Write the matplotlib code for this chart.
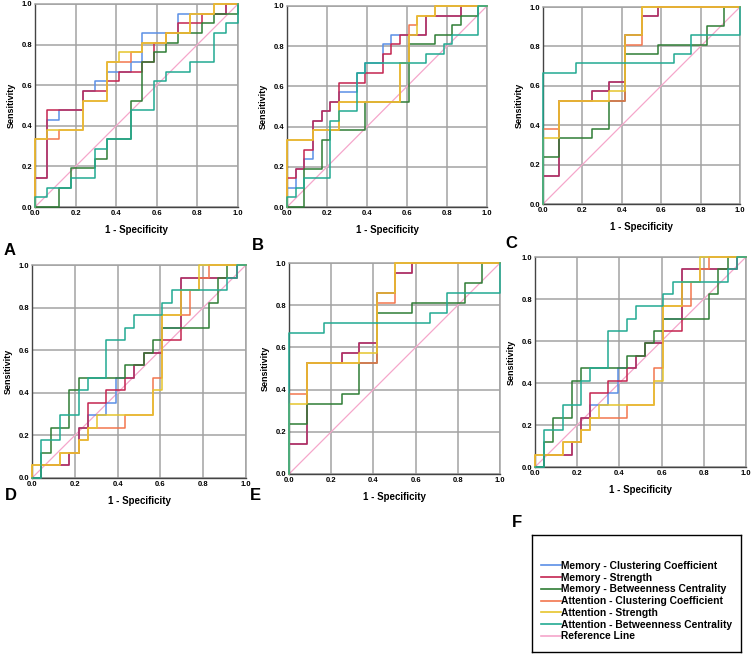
import matplotlib.pyplot as plt
from matplotlib.lines import Line2D

plt.rcParams["font.family"] = ["Liberation Sans", "DejaVu Sans"]

series_names = [
    "Memory - Clustering Coefficient",
    "Memory - Strength",
    "Memory - Betweenness Centrality",
    "Attention - Clustering Coefficient",
    "Attention - Strength",
    "Attention - Betweenness Centrality",
]
series_colors = ["#5b8fe6", "#c42450", "#2f7d35", "#f2764e", "#e6c52c", "#22aa92"]
ref_color = "#f5a6cb"
tick_vals = [0.0, 0.2, 0.4, 0.6, 0.8, 1.0]
tick_labels = ["0.0", "0.2", "0.4", "0.6", "0.8", "1.0"]

# ROC vertices as (false positive count, true positive count)
# panel A: 17 negatives, 21 positives
a_neg, a_pos = 17, 21
a_mem_cc = [(0, 0), (0, 3), (1, 3), (1, 9), (2, 9), (2, 10), (4, 10), (4, 12), (5, 12), (5, 13), (6, 13), (6, 14),
            (8, 14), (8, 15), (9, 15), (9, 18), (12, 18), (12, 20), (16, 20), (16, 21), (17, 21)]
a_mem_st = [(0, 0), (0, 3), (1, 3), (1, 10), (4, 10), (4, 12), (6, 12), (6, 13), (7, 13), (7, 14), (9, 14), (9, 15),
            (10, 15), (10, 17), (11, 17), (11, 18), (12, 18), (12, 19), (14, 19), (14, 20), (16, 20), (16, 21), (17, 21)]
a_mem_bc = [(0, 0), (2, 0), (2, 2), (3, 2), (3, 4), (5, 4), (5, 5), (6, 5), (6, 7), (8, 7), (8, 11), (9, 11), (9, 15),
            (10, 15), (10, 16), (11, 16), (11, 17), (12, 17), (12, 18), (14, 18), (14, 19), (15, 19), (15, 20),
            (17, 20), (17, 21)]
a_att_cc = [(0, 0), (0, 7), (2, 7), (2, 8), (4, 8), (4, 11), (6, 11), (6, 15), (8, 15), (8, 16), (9, 16), (9, 17),
            (11, 17), (11, 18), (13, 18), (13, 20), (15, 20), (15, 21), (17, 21)]
a_att_st = [(0, 0), (0, 7), (1, 7), (1, 8), (4, 8), (4, 11), (6, 11), (6, 15), (7, 15), (7, 16), (9, 16), (9, 17),
            (11, 17), (11, 18), (13, 18), (13, 20), (15, 20), (15, 21), (17, 21)]
a_att_bc = [(0, 0), (0, 1), (1, 1), (1, 2), (3, 2), (3, 3), (5, 3), (5, 6), (6, 6), (6, 7), (8, 7), (8, 10), (10, 10),
            (10, 13), (11, 13), (11, 14), (13, 14), (13, 15), (15, 15), (15, 18), (16, 18), (16, 19), (17, 19), (17, 21)]

# panel B: 23 negatives, 21 positives
b_neg, b_pos = 23, 21
b_mem_cc = [(0, 0), (0, 2), (1, 2), (1, 4), (2, 4), (2, 5), (3, 5), (3, 9), (4, 9), (4, 10), (5, 10), (5, 11), (6, 11),
            (6, 12), (8, 12), (8, 14), (9, 14), (9, 15), (11, 15), (11, 17), (12, 17), (12, 18), (16, 18), (16, 20),
            (20, 20), (20, 21), (23, 21)]
b_mem_st = [(0, 0), (0, 3), (1, 3), (1, 4), (2, 4), (2, 6), (3, 6), (3, 9), (4, 9), (4, 10), (5, 10), (5, 11), (6, 11),
            (6, 13), (9, 13), (9, 14), (11, 14), (11, 16), (12, 16), (12, 17), (13, 17), (13, 18), (16, 18), (16, 20),
            (20, 20), (20, 21), (23, 21)]
b_mem_bc = [(0, 0), (2, 0), (2, 4), (4, 4), (4, 7), (5, 7), (5, 8), (9, 8), (9, 11), (14, 11), (14, 17), (17, 17),
            (17, 18), (19, 18), (19, 19), (20, 19), (20, 20), (22, 20), (22, 21), (23, 21)]
b_att_cc = [(0, 0), (0, 7), (3, 7), (3, 8), (6, 8), (6, 11), (13, 11), (13, 15), (14, 15), (14, 19), (15, 19),
            (15, 20), (17, 20), (17, 21), (23, 21)]
b_att_st = [(0, 0), (0, 7), (3, 7), (3, 8), (6, 8), (6, 11), (13, 11), (13, 15), (14, 15), (14, 18), (15, 18),
            (15, 20), (17, 20), (17, 21), (23, 21)]
b_att_bc = [(0, 0), (0, 1), (1, 1), (1, 2), (2, 2), (2, 3), (5, 3), (5, 9), (6, 9), (6, 10), (8, 10), (8, 14), (9, 14),
            (9, 15), (16, 15), (16, 16), (18, 16), (18, 17), (19, 17), (19, 18), (22, 18), (22, 21), (23, 21)]

# panel C (repeated as E): 12 negatives, 21 positives
c_neg, c_pos = 12, 21
c_mem_st = [(0, 0), (0, 3), (1, 3), (1, 11), (3, 11), (3, 12), (4, 12), (4, 13), (5, 13), (5, 18), (6, 18), (6, 20),
            (7, 20), (7, 21), (12, 21)]
c_mem_cc = list(c_mem_st)
c_mem_bc = [(0, 0), (0, 5), (1, 5), (1, 7), (3, 7), (3, 8), (4, 8), (4, 11), (5, 11), (5, 16), (7, 16), (7, 17),
            (10, 17), (10, 19), (11, 19), (11, 21), (12, 21)]
c_att_cc = [(0, 0), (0, 8), (1, 8), (1, 11), (5, 11), (5, 17), (6, 17), (6, 21), (12, 21)]
c_att_st = [(0, 0), (0, 7), (1, 7), (1, 11), (4, 11), (4, 12), (5, 12), (5, 18), (6, 18), (6, 21), (12, 21)]
c_att_bc = [(0, 0), (0, 14), (2, 14), (2, 15), (8, 15), (8, 16), (9, 16), (9, 18), (12, 18), (12, 21)]

# panel D (repeated as F): 23 negatives, 17 positives
d_neg, d_pos = 23, 17
d_mem_cc = [(0, 0), (1, 0), (1, 1), (4, 1), (4, 2), (5, 2), (5, 4), (6, 4), (6, 5), (8, 5), (8, 6), (9, 6), (9, 8),
            (11, 8), (11, 9), (12, 9), (12, 10), (14, 10), (14, 12), (16, 12), (16, 16), (22, 16), (22, 17), (23, 17)]
d_mem_st = [(0, 0), (1, 0), (1, 1), (4, 1), (4, 2), (5, 2), (5, 4), (6, 4), (6, 6), (8, 6), (8, 7), (10, 7), (10, 8),
            (11, 8), (11, 9), (12, 9), (12, 10), (14, 10), (14, 11), (16, 11), (16, 16), (22, 16), (22, 17), (23, 17)]
d_mem_bc = [(0, 0), (1, 0), (1, 2), (2, 2), (2, 4), (4, 4), (4, 7), (5, 7), (5, 8), (10, 8), (10, 9), (12, 9),
            (12, 10), (13, 10), (13, 11), (14, 11), (14, 12), (19, 12), (19, 14), (20, 14), (20, 16), (21, 16),
            (21, 17), (23, 17)]
d_att_cc = [(0, 0), (0, 1), (3, 1), (3, 2), (5, 2), (5, 3), (6, 3), (6, 4), (10, 4), (10, 5), (13, 5), (13, 8),
            (14, 8), (14, 13), (17, 13), (17, 15), (18, 15), (18, 16), (19, 16), (19, 17), (23, 17)]
d_att_st = [(0, 0), (0, 1), (3, 1), (3, 2), (5, 2), (5, 3), (6, 3), (6, 4), (7, 4), (7, 5), (13, 5), (13, 7),
            (14, 7), (14, 13), (16, 13), (16, 15), (18, 15), (18, 17), (23, 17)]
d_att_bc = [(0, 0), (1, 0), (1, 3), (3, 3), (3, 5), (5, 5), (5, 7), (6, 7), (6, 8), (8, 8), (8, 11), (10, 11),
            (10, 12), (11, 12), (11, 13), (14, 13), (14, 14), (15, 14), (15, 15), (21, 15), (21, 16), (22, 16),
            (22, 17), (23, 17)]

panel_a = (a_neg, a_pos, [a_mem_cc, a_mem_st, a_mem_bc, a_att_cc, a_att_st, a_att_bc])
panel_b = (b_neg, b_pos, [b_mem_cc, b_mem_st, b_mem_bc, b_att_cc, b_att_st, b_att_bc])
panel_c = (c_neg, c_pos, [c_mem_cc, c_mem_st, c_mem_bc, c_att_cc, c_att_st, c_att_bc])
panel_d = (d_neg, d_pos, [d_mem_cc, d_mem_st, d_mem_bc, d_att_cc, d_att_st, d_att_bc])

W, H = 753, 656
fig = plt.figure(figsize=(W / 100, H / 100), dpi=100)


def px_axes(x0, y0, x1, y1):
    return fig.add_axes([x0 / W, 1 - y1 / H, (x1 - x0) / W, (y1 - y0) / H])


layout = [
    ("A", panel_a, (35, 4, 238, 207), (4, 255)),
    ("B", panel_b, (287, 6, 487, 207), (252, 250)),
    ("C", panel_c, (543, 7, 740, 204), (505, 248)),
    ("D", panel_d, (32, 265, 246, 478), (5, 500)),
    ("E", panel_c, (289, 263, 500, 474), (250, 500)),
    ("F", panel_d, (535, 257, 746, 467), (512, 527)),
]

for letter, (n_neg, n_pos, curves), box, lpos in layout:
    ax = px_axes(*box)
    ax.plot([0, 1], [0, 1], color=ref_color, lw=0.9, zorder=2)
    for pts, col in zip(curves, series_colors):
        xs = [p[0] / n_neg for p in pts]
        ys = [p[1] / n_pos for p in pts]
        ax.plot(xs, ys, color=col, lw=1.1, zorder=3, clip_on=False)
    ax.set_xlim(0, 1)
    ax.set_ylim(0, 1)
    ax.set_xticks(tick_vals)
    ax.set_yticks(tick_vals)
    ax.set_xticklabels(tick_labels)
    ax.set_yticklabels(tick_labels)
    ax.tick_params(length=0, pad=2, labelsize=5.5)
    for t in ax.get_xticklabels() + ax.get_yticklabels():
        t.set_fontweight("bold")
    ax.grid(True, color="#a3a3a3", lw=1.1, zorder=1)
    for side in ["top", "right"]:
        ax.spines[side].set_color("#a3a3a3")
        ax.spines[side].set_linewidth(1.1)
    for side in ["left", "bottom"]:
        ax.spines[side].set_color("#444444")
        ax.spines[side].set_linewidth(1.0)
    ax.set_xlabel("1 - Specificity", fontsize=7, fontweight="bold", labelpad=6)
    ax.set_ylabel("Sensitivity", fontsize=6.5, fontweight="bold", labelpad=4)
    fig.text(lpos[0] / W, 1 - lpos[1] / H, letter, fontsize=12, fontweight="bold", ha="left", va="baseline")

# legend box
leg_ax = px_axes(532, 535, 741, 652)
leg_ax.set_xticks([])
leg_ax.set_yticks([])
for s in leg_ax.spines.values():
    s.set_color("black")
    s.set_linewidth(1.0)
handles = [Line2D([], [], color=c, lw=1.2) for c in series_colors]
handles.append(Line2D([], [], color=ref_color, lw=1.2))
leg_ax.legend(handles, series_names + ["Reference Line"], loc="upper left",
              bbox_to_anchor=(0.01, 0.84), frameon=False,
              prop={"weight": "bold", "size": 7.4}, handlelength=1.9, handletextpad=0.0,
              labelspacing=0.17, borderpad=0.2)

fig.savefig("out.png", dpi=100)
